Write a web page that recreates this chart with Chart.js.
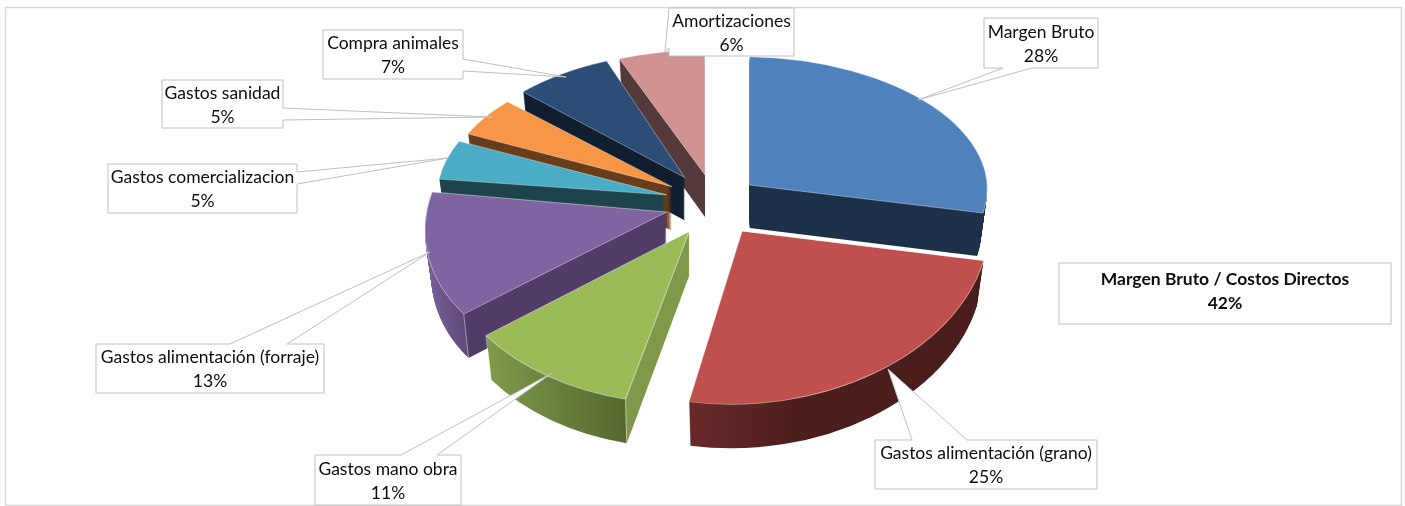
<!DOCTYPE html>
<html>
<head>
<meta charset="utf-8">
<title>Margen Bruto / Costos Directos</title>
<script src="https://cdn.jsdelivr.net/npm/chart.js@4"></script>
<style>
    html, body { margin: 0; padding: 0; background: #fff; }
    canvas { display: block; }
</style>
</head>
<body>
<canvas id="pieChart" width="1405" height="506"></canvas>
<script>
// Data
const categories = ['Margen Bruto', 'Gastos alimentación (grano)', 'Gastos mano obra', 'Gastos alimentación (forraje)',
    'Gastos comercializacion', 'Gastos sanidad', 'Compra animales', 'Amortizaciones'];
const shares = [28, 25, 11, 13, 5, 5, 7, 6];
const ratioTitle = 'Margen Bruto / Costos Directos';
const ratioValue = 42;

// Colours of each slice: top face and side wall
const topColors = ['#4f81bd', '#c0504d', '#9bbb59', '#8064a2', '#4bacc6', '#f79646', '#2c4d75', '#d19392'];
const wallColors = ['#1d3249', '#4d1e1e', '#55682f', '#503c67', '#1e444e', '#693e1c', '#111f30', '#543a3a'];
// Horizontal wall shading, stops are x distance from the pie centre before projection
const wallShades = {
    1: [[-46, '#682a28'], [60, '#4d1e1e'], [245, '#4a1c1c']],
    2: [[-186, '#7f9b4b'], [-46, '#55682f'], [-45, '#7f994a'], [60, '#7f994a']],
    3: [[-240, '#7a6299'], [-186, '#5f4a7c'], [-185, '#503c67'], [60, '#503c67']]
};
// Corners of a slice that get a light vertical edge on the wall
const cornerEdges = { 1: ['endAngle'], 2: ['startAngle', 'endAngle'], 3: ['startAngle'] };

// Fake 3D projection per slice (Excel style perspective)
const explode = [58, 66, 31, 40, 40, 40, 36, 0];
const tilt = [0.54, 0.7, 0.69, 0.667, 0.55, 0.55, 0.55, 0.537];
const pivotY = [205, 193, 213, 204.6, 201, 199, 194, 175];
const sizeScale = [0.99, 1.03, 1.04, 1, 0.955, 0.94, 0.95, 0.97];
const shearX = [0, -0.04, -0.1, -0.176, 0, 0, -0.05, 0];
const shearY = [0.017, -0.012, 0.03, 0, 0, 0, 0, 0];
const depth = [43, 44, 44, 44, 43, 43, 43, 42];
const wallTaper = 0.0006;
// Back slices first so the front ones cover their walls
const drawOrder = [7, 6, 5, 4, 3, 0, 2, 1];

// Label boxes: [left, top, right, bottom], wedge side, wedge base, wedge tip
const callouts = [
    { box: [984, 18, 1098, 68], side: 'bottom', base: [1032, 1003], tip: [918, 100] },
    { box: [875, 440, 1097, 489], side: 'top', base: [912, 967], tip: [888, 369] },
    { box: [315, 455, 461, 505], side: 'top', base: [401, 437], tip: [552, 373] },
    { box: [96, 344, 324, 393], side: 'top', base: [230, 287], tip: [430, 252] },
    { box: [108, 164, 297, 213], side: 'right', base: [172, 184], tip: [448, 158] },
    { box: [162, 80, 283, 128], side: 'right', base: [108, 120], tip: [492, 117] },
    { box: [323, 30, 463, 79], side: 'right', base: [59, 71], tip: [566, 77] },
    { box: [669, 8, 794, 56], side: 'left', base: [48, 8], tip: [665, 52] }
];
const ratioBox = [1059, 263, 1391, 324];
const lineColor = '#bfbfbf';

// Applies the slice projection around the chart centre
function applyProjection(ctx, el, i, drop) {
    const mid = (el.startAngle + el.endAngle) / 2;
    const dx = Math.cos(mid) * explode[i];
    const dy = Math.sin(mid) * explode[i] * tilt[i];
    ctx.translate(el.x + dx, pivotY[i] + dy + drop);
    ctx.transform(1, shearY[i], shearX[i], 1, 0, 0);
    ctx.scale(sizeScale[i] * (1 - wallTaper * drop), tilt[i] * sizeScale[i]);
    ctx.translate(-el.x, -el.y);
}

function wallFill(ctx, el, i) {
    const shade = wallShades[i];
    if (!shade) return wallColors[i];
    const first = shade[0][0];
    const last = shade[shade.length - 1][0];
    const grad = ctx.createLinearGradient(el.x + first, 0, el.x + last, 0);
    shade.forEach(s => grad.addColorStop((s[0] - first) / (last - first), s[1]));
    return grad;
}

// Draws one arc with other fill and no border, for the wall layers
function drawWall(ctx, el, i) {
    const own = el.options;
    const fill = wallFill(ctx, el, i);
    el.options = Object.assign(Object.create(own), { backgroundColor: fill, borderWidth: 0 });
    for (let t = depth[i]; t >= 1; t--) {
        ctx.save();
        applyProjection(ctx, el, i, t);
        el.draw(ctx);
        ctx.restore();
    }
    el.options = own;
}

function projectedPoint(ctx, el, i, angle, drop) {
    ctx.save();
    applyProjection(ctx, el, i, drop);
    const p = ctx.getTransform().transformPoint(new DOMPoint(
        el.x + Math.cos(angle) * el.outerRadius, el.y + Math.sin(angle) * el.outerRadius));
    ctx.restore();
    return p;
}

function drawCornerEdges(ctx, el, i) {
    (cornerEdges[i] || []).forEach(name => {
        const a = projectedPoint(ctx, el, i, el[name], 0);
        const b = projectedPoint(ctx, el, i, el[name], depth[i]);
        ctx.save();
        ctx.strokeStyle = 'rgba(255,255,255,0.45)';
        ctx.lineWidth = 1;
        ctx.beginPath();
        ctx.moveTo(a.x, a.y);
        ctx.lineTo(b.x, b.y);
        ctx.stroke();
        ctx.restore();
    });
}

function calloutPath(ctx, c) {
    const [l, t, r, b] = c.box;
    ctx.beginPath();
    ctx.moveTo(l, t);
    if (c.side === 'top') { ctx.lineTo(c.base[0], t); ctx.lineTo(c.tip[0], c.tip[1]); ctx.lineTo(c.base[1], t); }
    ctx.lineTo(r, t);
    if (c.side === 'right') { ctx.lineTo(r, c.base[0]); ctx.lineTo(c.tip[0], c.tip[1]); ctx.lineTo(r, c.base[1]); }
    ctx.lineTo(r, b);
    if (c.side === 'bottom') { ctx.lineTo(c.base[0], b); ctx.lineTo(c.tip[0], c.tip[1]); ctx.lineTo(c.base[1], b); }
    ctx.lineTo(l, b);
    if (c.side === 'left') { ctx.lineTo(l, c.base[0]); ctx.lineTo(c.tip[0], c.tip[1]); ctx.lineTo(l, c.base[1]); }
    ctx.closePath();
}

function drawBoxText(ctx, box, lines, font, shift) {
    const x = (box[0] + box[2]) / 2;
    const y = (box[1] + box[3]) / 2 + shift;
    ctx.font = font;
    ctx.fillStyle = '#0d0d0d';
    ctx.textAlign = 'center';
    ctx.textBaseline = 'middle';
    ctx.fillText(lines[0], x, y - 12);
    ctx.fillText(lines[1], x, y + 12);
}

const pie3d = {
    id: 'pie3d',
    beforeDraw(chart) {
        const ctx = chart.ctx;
        ctx.save();
        ctx.strokeStyle = '#d9d9d9';
        ctx.lineWidth = 1.5;
        ctx.strokeRect(5.5, 7.5, 1396, 498);
        ctx.restore();
    },
    // We paint the slices ourselves, in depth order
    beforeDatasetDraw() {
        return false;
    },
    afterDatasetsDraw(chart) {
        const ctx = chart.ctx;
        const arcs = chart.getDatasetMeta(0).data;
        drawOrder.forEach(i => {
            drawWall(ctx, arcs[i], i);
            drawCornerEdges(ctx, arcs[i], i);
            ctx.save();
            applyProjection(ctx, arcs[i], i, 0);
            arcs[i].draw(ctx);
            ctx.restore();
        });

        // Label boxes on top of the pie
        ctx.save();
        ctx.strokeStyle = lineColor;
        ctx.lineWidth = 1;
        ctx.textRendering = 'optimizeSpeed';
        callouts.forEach((c, i) => {
            calloutPath(ctx, c);
            ctx.fillStyle = '#fff';
            ctx.fill();
            ctx.stroke();
            drawBoxText(ctx, c.box, [categories[i], shares[i] + '%'], '17.5px Lato', 1);
        });
        ctx.fillStyle = '#fff';
        ctx.fillRect(ratioBox[0], ratioBox[1], ratioBox[2] - ratioBox[0], ratioBox[3] - ratioBox[1]);
        ctx.strokeRect(ratioBox[0], ratioBox[1], ratioBox[2] - ratioBox[0], ratioBox[3] - ratioBox[1]);
        drawBoxText(ctx, ratioBox, [ratioTitle, ratioValue + '%'], 'bold 17.5px Lato', -2.5);
        ctx.restore();
    }
};

new Chart(document.getElementById('pieChart').getContext('2d'), {
    type: 'pie',
    data: {
        labels: categories,
        datasets: [{
            data: shares,
            backgroundColor: topColors,
            borderColor: 'rgba(255,255,255,0.5)',
            borderWidth: 1
        }]
    },
    options: {
        responsive: false,
        animation: false,
        radius: 240,
        layout: { padding: { left: 5, bottom: 96 } },
        plugins: { legend: { display: false }, tooltip: { enabled: false } }
    },
    plugins: [pie3d]
});
</script>
</body>
</html>
